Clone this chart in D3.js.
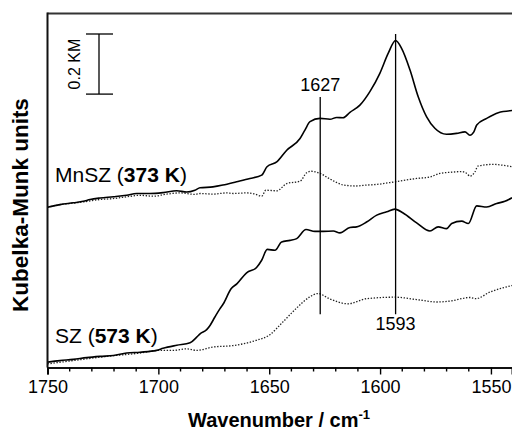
<!DOCTYPE html>
<html>
<head>
<meta charset="utf-8">
<script src="https://cdn.jsdelivr.net/npm/d3@7"></script>
<style>
  html, body { margin: 0; padding: 0; background: #fff; }
  svg { display: block; font-family: "Liberation Sans", Arial, Helvetica, sans-serif; }
</style>
</head>
<body>
<svg id="chart" width="512" height="430"></svg>
<script>
// DRIFT spectra, wavenumber (cm-1) vs Kubelka-Munk intensity (offset baselines)

// MnSZ (373 K), solid trace
const mnszSolidWn = [1750, 1744.4, 1738.4, 1733.9, 1730.8, 1726.3, 1720.3, 1714.3, 1709.8, 1703.8,
  1697.8, 1691.7, 1687.2, 1683.5, 1681.2, 1675.4, 1670.9, 1664.7, 1658.7, 1653.4,
  1651.0, 1646.6, 1642.1, 1636.1, 1633.9, 1631.6, 1627.1, 1622.6, 1619.6, 1616.7,
  1613.6, 1609.1, 1604.6, 1600.1, 1596.3, 1593.0, 1590.3, 1586.5, 1582.8, 1579.0,
  1575.3, 1570.0, 1565.5, 1561.7, 1559.5, 1557.7, 1556.4, 1551.9, 1546.7, 1540.5];
const mnszSolidKM = [0.533, 0.542, 0.548, 0.553, 0.559, 0.564, 0.568, 0.573, 0.579, 0.579,
  0.582, 0.588, 0.584, 0.590, 0.598, 0.601, 0.607, 0.618, 0.629, 0.640,
  0.668, 0.684, 0.723, 0.762, 0.790, 0.818, 0.829, 0.826, 0.832, 0.831,
  0.849, 0.873, 0.918, 0.979, 1.046, 1.088, 1.062, 0.990, 0.901, 0.834,
  0.796, 0.776, 0.779, 0.784, 0.773, 0.784, 0.807, 0.829, 0.848, 0.855];

// MnSZ (373 K), dotted trace
const mnszDotWn = [1750, 1744.4, 1738.4, 1733.9, 1726.3, 1720.5, 1714.3, 1708.3, 1702.4, 1696.2,
  1690.2, 1683.5, 1681.2, 1675.4, 1669.1, 1666.3, 1660.2, 1656.4, 1653.4, 1651.5,
  1646.6, 1642.1, 1636.1, 1633.1, 1630.9, 1627.1, 1622.8, 1616.3, 1610.9, 1606.1,
  1601.9, 1593.3, 1583.5, 1577.5, 1573.0, 1567.6, 1563.1, 1560.8, 1559.5, 1557.2,
  1555.9, 1549.0, 1544.6, 1540.5];
const mnszDotKM = [0.533, 0.542, 0.547, 0.551, 0.559, 0.562, 0.568, 0.573, 0.570, 0.577,
  0.581, 0.576, 0.579, 0.577, 0.581, 0.579, 0.581, 0.577, 0.570, 0.590,
  0.588, 0.612, 0.620, 0.648, 0.653, 0.646, 0.628, 0.607, 0.604, 0.607,
  0.609, 0.618, 0.629, 0.634, 0.646, 0.650, 0.652, 0.645, 0.637, 0.651,
  0.670, 0.676, 0.673, 0.668];

// SZ (573 K), solid trace
const szSolidWn = [1750, 1744.4, 1738.4, 1732.3, 1726.3, 1720.3, 1714.3, 1708.3, 1700.8, 1697.9,
  1691.7, 1685.7, 1682.7, 1681.2, 1678.2, 1676.7, 1674.5, 1672.2, 1670.7, 1667.2,
  1664.5, 1660.2, 1655.7, 1653.4, 1650.9, 1647.4, 1644.4, 1640.6, 1637.6, 1633.4,
  1629.4, 1625.6, 1621.1, 1618.1, 1613.6, 1610.6, 1606.1, 1601.5, 1597.0, 1593.3,
  1589.6, 1583.5, 1577.5, 1573.8, 1570.0, 1567.7, 1563.2, 1560.2, 1556.4, 1551.9,
  1547.4, 1543.7, 1540.5];
const szSolidKM = [0.018, 0.023, 0.027, 0.033, 0.037, 0.040, 0.048, 0.051, 0.057, 0.064,
  0.074, 0.082, 0.101, 0.112, 0.126, 0.140, 0.168, 0.196, 0.212, 0.262,
  0.279, 0.315, 0.333, 0.357, 0.393, 0.390, 0.418, 0.423, 0.429, 0.459,
  0.453, 0.453, 0.454, 0.448, 0.466, 0.468, 0.484, 0.507, 0.518, 0.527,
  0.514, 0.481, 0.454, 0.468, 0.462, 0.479, 0.487, 0.479, 0.538, 0.534,
  0.546, 0.553, 0.565];

// SZ (573 K), dotted trace
const szDotWn = [1750, 1738.5, 1723.3, 1708.3, 1699.3, 1693.3, 1687.2, 1682.7, 1675.4, 1666.3,
  1656.0, 1650.1, 1643.9, 1637.9, 1631.9, 1628.0, 1622.9, 1614.6, 1606.1, 1593.3,
  1583.5, 1574.3, 1568.5, 1559.5, 1556.8, 1550.4, 1540.5];
const szDotKM = [0.012, 0.023, 0.037, 0.048, 0.057, 0.057, 0.062, 0.057, 0.068, 0.073,
  0.090, 0.107, 0.151, 0.196, 0.234, 0.246, 0.229, 0.212, 0.229, 0.234,
  0.226, 0.218, 0.221, 0.233, 0.229, 0.251, 0.273];

// Band positions marked with vertical lines
const bandWn = [1627, 1593];
const bandTopKM = [0.90, 1.11];
const bandBottomKM = 0.177;

// Axis ticks
const majorTicks = [1750, 1700, 1650, 1600, 1550];
const minorTicks = d3.range(1750, 1540, -10);

// Scale bar size
const scaleBarKM = 0.2;

const svg = d3.select("#chart");
const plotLeft = 47.5, plotRight = 512, plotTop = 13.5, plotBottom = 367.5;

const x = d3.scaleLinear().domain([1750, 1540.5]).range([plotLeft, plotRight]);
const y = d3.scaleLinear().domain([0, 1.178]).range([plotBottom, plotTop]);

const line = d3.line()
  .x(d => x(d[0]))
  .y(d => y(d[1]))
  .curve(d3.curveMonotoneX);

const zip = (a, b) => a.map((v, i) => [v, b[i]]);

const plot = svg.append("g");

// Spectra
const series = [
  { pts: zip(mnszDotWn, mnszDotKM), dotted: true },
  { pts: zip(szDotWn, szDotKM), dotted: true },
  { pts: zip(mnszSolidWn, mnszSolidKM), dotted: false },
  { pts: zip(szSolidWn, szSolidKM), dotted: false }
];
series.forEach(s => {
  plot.append("path")
    .attr("d", line(s.pts))
    .attr("fill", "none")
    .attr("stroke", s.dotted ? "#222" : "#000")
    .attr("stroke-width", s.dotted ? 1.3 : 1.6)
    .attr("stroke-dasharray", s.dotted ? "1.4,1.6" : null)
    .attr("stroke-linejoin", "round");
});

// Band marker lines
bandWn.forEach((wn, i) => {
  plot.append("line")
    .attr("x1", x(wn)).attr("x2", x(wn))
    .attr("y1", y(bandTopKM[i])).attr("y2", y(bandBottomKM))
    .attr("stroke", "#000").attr("stroke-width", 1.3);
});
svg.append("text")
  .attr("x", x(bandWn[0])).attr("y", y(bandTopKM[0]) - 6)
  .attr("text-anchor", "middle").attr("font-size", 18)
  .text(bandWn[0]);
svg.append("text")
  .attr("x", x(bandWn[1])).attr("y", y(bandBottomKM) + 16)
  .attr("text-anchor", "middle").attr("font-size", 18)
  .text(bandWn[1]);

// Scale bar
const sbX = 99, sbTop = 34;
const sbBottom = sbTop + (y(0) - y(scaleBarKM));
const sb = svg.append("g").attr("stroke", "#000").attr("stroke-width", 1.3);
sb.append("line").attr("x1", sbX).attr("x2", sbX).attr("y1", sbTop).attr("y2", sbBottom);
sb.append("line").attr("x1", sbX - 13).attr("x2", sbX + 14).attr("y1", sbTop).attr("y2", sbTop);
sb.append("line").attr("x1", sbX - 13).attr("x2", sbX + 14).attr("y1", sbBottom).attr("y2", sbBottom);
svg.append("text")
  .attr("transform", `translate(79.5,${(sbTop + sbBottom) / 2}) rotate(-90)`)
  .attr("text-anchor", "middle").attr("font-size", 16)
  .text(scaleBarKM + " KM");

// Sample labels
function sampleLabel(xp, yp, name, temp) {
  const t = svg.append("text").attr("x", xp).attr("y", yp).attr("font-size", 21);
  t.append("tspan").text(name + " (");
  t.append("tspan").attr("font-weight", "bold").text(temp);
  t.append("tspan").text(")");
}
sampleLabel(55, 182, "MnSZ", "373 K");
sampleLabel(55, 343, "SZ", "573 K");

// Frame: top border, left and bottom axes
svg.append("line").attr("x1", plotLeft).attr("x2", plotRight).attr("y1", plotTop).attr("y2", plotTop)
  .attr("stroke", "#333").attr("stroke-width", 2);
svg.append("line").attr("x1", plotLeft).attr("x2", plotLeft).attr("y1", plotTop - 1).attr("y2", plotBottom)
  .attr("stroke", "#111").attr("stroke-width", 2);

const xAxis = d3.axisBottom(x)
  .tickValues(majorTicks)
  .tickFormat(d3.format("d"))
  .tickSize(7)
  .tickPadding(6);
const gx = svg.append("g").attr("transform", `translate(0,${plotBottom})`).call(xAxis);
gx.select(".domain").attr("stroke", "#111").attr("stroke-width", 2);
gx.selectAll(".tick line").attr("stroke", "#000").attr("stroke-width", 1.4);
gx.selectAll(".tick text").attr("font-size", 18).attr("fill", "#000")
  .attr("font-family", "Liberation Sans, Arial, sans-serif");

svg.append("g").selectAll("line")
  .data(minorTicks.filter(t => !majorTicks.includes(t)))
  .join("line")
  .attr("x1", d => x(d)).attr("x2", d => x(d))
  .attr("y1", plotBottom).attr("y2", plotBottom + 4)
  .attr("stroke", "#000").attr("stroke-width", 1.4);

// Axis titles
const xt = svg.append("text")
  .attr("x", 279).attr("y", 427)
  .attr("text-anchor", "middle")
  .attr("font-size", 20).attr("font-weight", "bold");
xt.append("tspan").text("Wavenumber / cm");
xt.append("tspan").attr("font-size", 13).attr("dy", -8).text("-1");

svg.append("text")
  .attr("transform", "translate(27.5,205) rotate(-90)")
  .attr("text-anchor", "middle")
  .attr("font-size", 22.5).attr("font-weight", "bold")
  .text("Kubelka-Munk units");
</script>
</body>
</html>
